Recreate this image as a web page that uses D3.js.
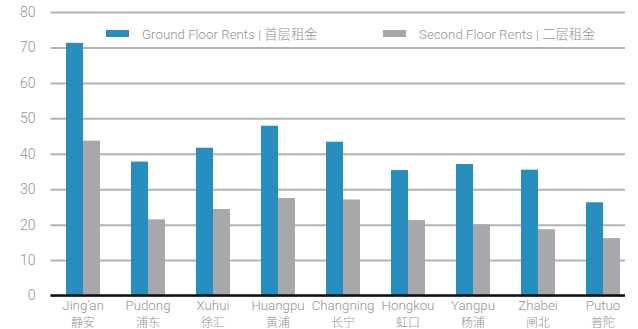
<!DOCTYPE html>
<html>
<head>
<meta charset="utf-8">
<script src="https://cdn.jsdelivr.net/npm/d3@7"></script>
<style>
  html, body { margin: 0; padding: 0; background: #fff; }
  svg { display: block; }
  text { font-family: Roboto, "Noto Sans CJK SC", sans-serif; font-weight: 300; fill: #939393; }
</style>
</head>
<body>
<svg id="chart" width="638" height="329"></svg>
<script>
// District names (English / Chinese)
const districtsEn = ["Jing'an", "Pudong", "Xuhui", "Huangpu", "Changning", "Hongkou", "Yangpu", "Zhabei", "Putuo"];
const districtsZh = ["静安", "浦东", "徐汇", "黄浦", "长宁", "虹口", "杨浦", "闸北", "普陀"];

// Rents per district
const groundFloorRents = [71.3, 37.8, 41.7, 47.9, 43.4, 35.4, 37.1, 35.5, 26.3];
const secondFloorRents = [43.7, 21.5, 24.4, 27.5, 27.1, 21.3, 20.1, 18.7, 16.2];

const seriesNames = ["Ground Floor Rents | 首层租金", "Second Floor Rents | 二层租金"];
const seriesColors = ["#268fc0", "#a7a8ab"];
const yTicks = [0, 10, 20, 30, 40, 50, 60, 70, 80];

const svg = d3.select("#chart");
const plotLeft = 50.5, plotRight = 625;

const x = d3.scaleBand()
  .domain(districtsEn)
  .range([50.5, 635.5]);

const inner = d3.scaleBand()
  .domain([0, 1])
  .range([x.bandwidth() / 2 - 17, x.bandwidth() / 2 + 17]);

const y = d3.scaleLinear()
  .domain([0, 80])
  .range([295.5, 12]);

// Horizontal gridlines
const yAxis = d3.axisLeft(y)
  .tickValues(yTicks)
  .tickSize(-(plotRight - plotLeft))
  .tickPadding(15)
  .tickFormat(d3.format("d"));

const gy = svg.append("g")
  .attr("transform", `translate(${plotLeft},0)`)
  .call(yAxis);
gy.select(".domain").remove();
gy.selectAll(".tick line").attr("stroke", "#b3b3b3").attr("stroke-width", 2);
gy.selectAll(".tick text")
  .attr("font-size", 14)
  .attr("fill", "#8c8c8c")
  .style("font-family", "Roboto, sans-serif");

// Bars
const rows = districtsEn.map((d, i) => ({ name: d, values: [groundFloorRents[i], secondFloorRents[i]] }));
const groups = svg.append("g").selectAll("g")
  .data(rows)
  .join("g")
  .attr("transform", d => `translate(${x(d.name)},0)`);

groups.selectAll("rect")
  .data(d => d.values.map((v, k) => ({ k, v })))
  .join("rect")
  .attr("x", d => inner(d.k))
  .attr("width", inner.bandwidth())
  .attr("y", d => y(d.v))
  .attr("height", d => y(0) - y(d.v))
  .attr("fill", d => seriesColors[d.k]);

// Baseline
svg.append("line")
  .attr("x1", plotLeft).attr("x2", plotRight)
  .attr("y1", y(0)).attr("y2", y(0))
  .attr("stroke", "#111").attr("stroke-width", 2.5);

// Category labels
const labels = svg.append("g").selectAll("g")
  .data(districtsEn)
  .join("g")
  .attr("transform", d => `translate(${x(d) + x.bandwidth() / 2},0)`);
labels.append("text")
  .attr("y", 309.5)
  .attr("text-anchor", "middle")
  .attr("font-size", 13.3)
  .text(d => d);
labels.append("text")
  .attr("y", 326.5)
  .attr("text-anchor", "middle")
  .attr("font-size", 12)
  .text((d, i) => districtsZh[i]);

// Legend
const legendX = [106, 383];
const legend = svg.append("g").selectAll("g")
  .data(seriesNames)
  .join("g")
  .attr("transform", (d, i) => `translate(${legendX[i]},30)`);
legend.append("rect")
  .attr("width", 23).attr("height", 7)
  .attr("fill", (d, i) => seriesColors[i]);
legend.append("text")
  .attr("x", 36).attr("y", 8.5)
  .attr("font-size", 13.3)
  .text(d => d);
</script>
</body>
</html>
